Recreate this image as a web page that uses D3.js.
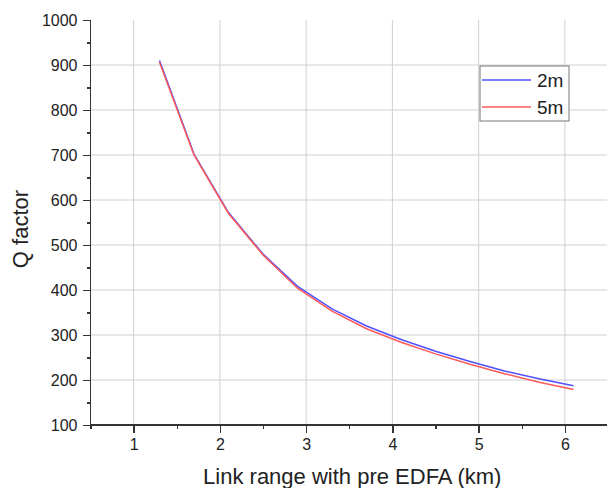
<!DOCTYPE html>
<html>
<head>
    <script src="https://d3js.org/d3.v7.min.js"></script>
    <style>
        body { margin: 0; background: #fff; }
        text { font-family: Arial, "Liberation Sans", sans-serif; fill: #222; }
        .grid line { stroke: #d0d0d0; stroke-width: 1; }
        .axis path, .axis line { stroke: #333; stroke-width: 1.3; shape-rendering: crispEdges; }
        .axis text { font-size: 16px; }
    </style>
</head>
<body>
<svg id="chart" width="607" height="488"></svg>
<script>
    // data
    var linkRange = [1.3, 1.7, 2.1, 2.5, 2.9, 3.3, 3.7, 4.1, 4.5, 4.9, 5.3, 5.7, 6.1];
    var q2m = [910, 702, 572, 480, 408, 358, 320, 290, 264, 241, 220, 203, 187];
    var q5m = [906, 700, 570, 478, 404, 353, 314, 284, 258, 235, 214, 195, 179];
    var seriesNames = ["2m", "5m"];
    var seriesColors = ["#5050ff", "#ff5a5a"];
    var xTicks = [1, 2, 3, 4, 5, 6];
    var yTicks = [100, 200, 300, 400, 500, 600, 700, 800, 900, 1000];

    var svg = d3.select("#chart");

    var x = d3.scaleLinear().domain([0.5, 6.5]).range([90.5, 608]);
    var y = d3.scaleLinear().domain([100, 1000]).range([425, 20]);

    // grid lines
    var grid = svg.append("g").attr("class", "grid");
    grid.selectAll(".gx").data(xTicks).enter().append("line")
        .attr("x1", function(d) { return x(d); }).attr("x2", function(d) { return x(d); })
        .attr("y1", y(1000)).attr("y2", y(100));
    grid.selectAll(".gy").data(yTicks.slice(1, -1)).enter().append("line")
        .attr("x1", x(0.5)).attr("x2", 607)
        .attr("y1", function(d) { return y(d); }).attr("y2", function(d) { return y(d); });

    // minor ticks (every half step)
    var xMinor = d3.range(0.5, 6.51, 0.5).filter(function(d) { return d % 1 !== 0; });
    var yMinor = d3.range(150, 1000, 100);

    var xAxis = svg.append("g").attr("class", "axis")
        .attr("transform", "translate(0," + y(100) + ")");
    xAxis.call(d3.axisBottom(x).tickValues(xMinor).tickSize(4).tickFormat(""));
    xAxis.append("g").call(d3.axisBottom(x).tickValues(xTicks).tickSize(8).tickPadding(6).tickFormat(d3.format("d")));
    xAxis.selectAll("path").remove();
    xAxis.append("line").attr("x1", x(0.5)).attr("x2", 607).attr("y1", 0).attr("y2", 0);

    var yAxis = svg.append("g").attr("class", "axis")
        .attr("transform", "translate(" + x(0.5) + ",0)");
    yAxis.call(d3.axisLeft(y).tickValues(yMinor).tickSize(4).tickFormat(""));
    yAxis.append("g").call(d3.axisLeft(y).tickValues(yTicks).tickSize(8).tickPadding(5).tickFormat(d3.format("d")));
    yAxis.selectAll("path").remove();
    yAxis.append("line").attr("x1", 0).attr("x2", 0).attr("y1", y(1000)).attr("y2", y(100));

    // lines
    var line = d3.line()
        .x(function(d) { return x(d[0]); })
        .y(function(d) { return y(d[1]); });

    [q2m, q5m].forEach(function(vals, i) {
        svg.append("path")
            .datum(linkRange.map(function(r, j) { return [r, vals[j]]; }))
            .attr("fill", "none")
            .attr("stroke", seriesColors[i])
            .attr("stroke-width", 1.5)
            .attr("d", line);
    });

    // legend
    var legend = svg.append("g").attr("transform", "translate(480,66)");
    legend.append("rect").attr("width", 89).attr("height", 55)
        .attr("fill", "#fff").attr("stroke", "#777").attr("stroke-width", 1);
    seriesNames.forEach(function(name, i) {
        var ly = 14 + i * 27;
        legend.append("line").attr("x1", 2).attr("x2", 51).attr("y1", ly).attr("y2", ly)
            .attr("stroke", seriesColors[i]).attr("stroke-width", 1.5);
        legend.append("text").attr("x", 57).attr("y", ly + 7)
            .style("font-size", "19px").text(name);
    });

    // axis titles
    svg.append("text").attr("x", (x(1) + x(6)) / 2 + 3).attr("y", 484)
        .attr("text-anchor", "middle").style("font-size", "22px")
        .text("Link range with pre EDFA (km)");
    svg.append("text").attr("transform", "translate(28,229) rotate(-90)")
        .attr("text-anchor", "middle").style("font-size", "22px")
        .text("Q factor");
</script>
</body>
</html>
